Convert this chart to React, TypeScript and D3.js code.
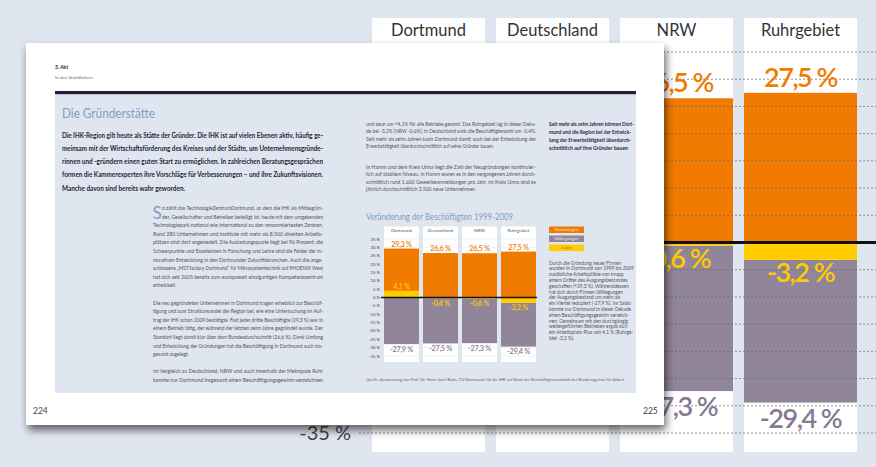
import React from "react";
import * as d3 from "d3";

const categories = ["Dortmund", "Deutschland", "NRW", "Ruhrgebiet"];
const gruendungen = [29.3, 26.6, 26.5, 27.5];
const stilllegungen = [-27.9, -27.5, -27.3, -29.4];
const saldo = [4.1, -0.4, -0.6, -3.2];
const yTicks = [35, 30, 25, 20, 15, 10, 5, 0, -5, -10, -15, -20, -25, -30, -35];
const legendLabels = ["Gründungen", "Stilllegungen", "Saldo"];

const ORANGE = "#f07b00";
const PURPLE = "#918599";
const YELLOW = "#ffcc00";
const PURPLE_TXT = "#857a91";
const BG = "#e0e6ef";
const PANEL = "#dfe6f0";
const STEEL = "#7f9ec0";
const FONT = "Lato, 'Open Sans', sans-serif";

const de = d3.formatLocale({ decimal: ",", thousands: ".", grouping: [3], currency: ["", "€"], minus: "-" } as any);
const f1 = de.format(".1f");
const pct = (v: number) => f1(v) + " %";
const tickFmt = (v: number) => de.format("d")(v) + " %";

const introLines = [
  { t: "Die IHK-Region gilt heute als Stätte der Gründer. Die IHK ist auf vielen Ebenen aktiv, häufig ge-", w: 261 },
  { t: "meinsam mit der Wirtschaftsförderung des Kreises und der Städte, um Unternehmensgründe-", w: 261 },
  { t: "rinnen und -gründern einen guten Start zu ermöglichen. In zahlreichen Beratungsgesprächen", w: 261 },
  { t: "formen die Kammerexperten ihre Vorschläge für Verbesserungen – und ihre Zukunftsvisionen.", w: 261 },
  { t: "Manche davon sind bereits wahr geworden.", w: 123 },
];

const col1Lines = [
  { t: "o zählt das TechnologieZentrumDortmund, an dem die IHK als Mitbegrün-", w: 161, x: 9 },
  { t: "der, Gesellschafter und Betreiber beteiligt ist, heute mit dem umgebenden", w: 161, x: 9 },
  { t: "Technologiepark national wie international zu den renommiertesten Zentren.", w: 170 },
  { t: "Rund 280 Unternehmen und Institute mit mehr als 8.500 direkten Arbeits-", w: 170 },
  { t: "plätzen sind dort angesiedelt. Die Auslastungsquote liegt bei 96 Prozent; die", w: 170 },
  { t: "Schwerpunkte und Exzellenzen in Forschung und Lehre sind die Felder der in-", w: 170 },
  { t: "novativen Entwicklung in den Dortmunder Zukunftsbranchen. Auch die ange-", w: 170 },
  { t: "schlossene „MST.factory Dortmund“ für Mikrosystemtechnik auf PHOENIX West", w: 170 },
  { t: "hat sich seit 2005 bereits zum europaweit einzigartigen Kompetenzzentrum", w: 170 },
  { t: "entwickelt.", w: 23 },
  { t: "", w: 0 },
  { t: "Die neu gegründeten Unternehmen in Dortmund tragen erheblich zur Beschäf-", w: 170 },
  { t: "tigung und zum Strukturwandel der Region bei, wie eine Untersuchung im Auf-", w: 170 },
  { t: "trag der IHK schon 2009 bestätigte. Fast jeder dritte Beschäftigte (29,3 %) war in", w: 170 },
  { t: "einem Betrieb tätig, der während der letzten zehn Jahre gegründet wurde. Der", w: 170 },
  { t: "Standort liegt damit klar über dem Bundesdurchschnitt (26,6 %). Dank Umfang", w: 170 },
  { t: "und Entwicklung der Gründungen hat die Beschäftigung in Dortmund auch ins-", w: 170 },
  { t: "gesamt zugelegt.", w: 36 },
  { t: "", w: 0 },
  { t: "Im Vergleich zu Deutschland, NRW und auch innerhalb der Metropole Ruhr", w: 170 },
  { t: "konnte nur Dortmund insgesamt einen Beschäftigungsgewinn verzeichnen", w: 170 },
];

const col2Para1 = [
  { t: "und zwar um +4,1% für alle Betriebe gesamt. Das Ruhrgebiet lag in dieser Deka-", w: 170 },
  { t: "de bei -3,2% (NRW -0,6%), in Deutschland sank die Beschäftigtenzahl um -0,4%.", w: 170 },
  { t: "Seit mehr als zehn Jahren kann Dortmund damit auch bei der Entwicklung der", w: 170 },
  { t: "Erwerbstätigkeit überdurchschnittlich auf seine Gründer bauen.", w: 128 },
];
const col2Para2 = [
  { t: "In Hamm und dem Kreis Unna liegt die Zahl der Neugründungen kontinuier-", w: 170 },
  { t: "lich auf stabilem Niveau. In Hamm waren es in den vergangenen Jahren durch-", w: 170 },
  { t: "schnittlich rund 1.600 Gewerbeanmeldungen pro Jahr, im Kreis Unna sind es", w: 170 },
  { t: "jährlich durchschnittlich 3.500 neue Unternehmen.", w: 110 },
];
const sideLines = [
  { t: "Seit mehr als zehn Jahren können Dort-", w: 85 },
  { t: "mund und die Region bei der Entwick-", w: 82 },
  { t: "lung der Erwerbstätigkeit überdurch-", w: 82 },
  { t: "schnittlich auf ihre Gründer bauen", w: 79 },
];
const descLines = [
  "Durch die Gründung neuer Firmen",
  "wurden in Dortmund von 1999 bis 2009",
  "zusätzliche Arbeitsplätze von knapp",
  "einem Drittel des Ausgangsbestandes",
  "geschaffen (+29,3 %). Währenddessen",
  "hat sich durch Firmen-Stilllegungen",
  "der Ausgangsbestand um mehr als",
  "ein Viertel reduziert (-27,9 %). Im Saldo",
  "konnte nur Dortmund in dieser Dekade",
  "einen Beschäftigungsgewinn verzeich-",
  "nen. Gemeinsam mit den durchgängig",
  "weitergeführten Betrieben ergab sich",
  "ein Arbeitsplatz-Plus von 4,1 % (Ruhrge-",
  "biet -3,2 %).",
];

type ChartProps = {
  xRange: [number, number];
  pad: number;
  yRange: [number, number];
  colTop: number;
  colBot: number;
  catY: number;
  catSize: number;
  catColor: string;
  valSize: number;
  valSpacing: number;
  valWeight: number;
  offTop: number;
  offSaldoPos: number;
  offSaldoNeg: number;
  offBottom: number;
  tickX: number;
  tickSize: number;
  tickDy: number;
  dashed: boolean;
  lineX: [number, number];
  zeroW: number;
};

function BarChart({ p }: { p: ChartProps }) {
  const x = d3.scaleBand<string>().domain(categories).range(p.xRange).paddingInner(p.pad).paddingOuter(0);
  const y = d3.scaleLinear().domain([35, -35]).range(p.yRange);
  const bw = x.bandwidth();
  const y0 = y(0);
  return (
    <g fontFamily={FONT}>
      {categories.map((c) => (
        <rect key={c} x={x(c)} y={p.colTop} width={bw} height={p.colBot - p.colTop} fill="#fff" />
      ))}
      {!p.dashed &&
        yTicks.filter((t) => t !== 0).map((t) =>
          categories.map((c) => (
            <line key={t + c} x1={x(c)} x2={(x(c) as number) + bw} y1={y(t)} y2={y(t)} stroke="#e2e4ea" strokeWidth={0.5} />
          ))
        )}
      {categories.map((c, i) => {
        const g = gruendungen[i];
        const s = saldo[i];
        const st = stilllegungen[i];
        const xs = x(c) as number;
        return (
          <g key={c}>
            <rect x={xs} y={y(g)} width={bw} height={y0 - y(g)} fill={ORANGE} />
            <rect x={xs} y={y(Math.min(s, 0))} width={bw} height={y(st) - y(Math.min(s, 0))} fill={PURPLE} />
            <rect x={xs} y={y(Math.max(s, 0))} width={bw} height={Math.abs(y(s) - y0)} fill={YELLOW} />
          </g>
        );
      })}
      {p.dashed &&
        yTicks.filter((t) => t !== 0).map((t) => (
          <line key={t} x1={p.lineX[0]} x2={p.lineX[1]} y1={y(t)} y2={y(t)} stroke="#666" strokeOpacity={0.7} strokeWidth={1} strokeDasharray="2 2" />
        ))}
      <line x1={p.lineX[0]} x2={p.lineX[1]} y1={y0} y2={y0} stroke="#111" strokeWidth={p.zeroW} />
      {yTicks.map((t) => (
        <text key={t} x={p.tickX} y={y(t) + p.tickDy} fontSize={p.tickSize} textAnchor="end" fill="#444">
          {tickFmt(t)}
        </text>
      ))}
      {categories.map((c, i) => {
        const cx = (x(c) as number) + bw / 2;
        const s = saldo[i];
        return (
          <g key={c} textAnchor="middle" letterSpacing={p.valSpacing} fontWeight={p.valWeight}>
            <text x={cx} y={p.catY} fontSize={p.catSize} fill={p.catColor} letterSpacing={0} fontWeight={400}>
              {c}
            </text>
            <text x={cx} y={y(gruendungen[i]) - p.offTop} fontSize={p.valSize} fill={ORANGE}>
              {pct(gruendungen[i])}
            </text>
            <text x={cx} y={s >= 0 ? y(s) - p.offSaldoPos : y(s) + p.offSaldoNeg} fontSize={p.valSize} fill={YELLOW}>
              {pct(s)}
            </text>
            <text x={cx} y={y(stilllegungen[i]) + p.offBottom} fontSize={p.valSize} fill={PURPLE_TXT}>
              {pct(stilllegungen[i])}
            </text>
          </g>
        );
      })}
    </g>
  );
}

const bigChart: ChartProps = {
  xRange: [372, 857],
  pad: 11 / 124,
  yRange: [52, 433],
  colTop: 18,
  colBot: 452,
  catY: 36,
  catSize: 16.5,
  catColor: "#333",
  valSize: 27,
  valSpacing: -1.5,
  valWeight: 600,
  offTop: 6,
  offSaldoPos: 5,
  offSaldoNeg: 22,
  offBottom: 25,
  tickX: 351,
  tickSize: 20,
  tickDy: 7,
  dashed: true,
  lineX: [359, 876],
  zeroW: 3,
};

const smallChart: ChartProps = {
  xRange: [384, 536],
  pad: 4 / 39,
  yRange: [239, 356],
  colTop: 226.5,
  colBot: 362,
  catY: 232,
  catSize: 4.6,
  catColor: "#555",
  valSize: 7.4,
  valSpacing: -0.3,
  valWeight: 600,
  offTop: 2,
  offSaldoPos: 2,
  offSaldoNeg: 7.5,
  offBottom: 7.5,
  tickX: 380,
  tickSize: 4.3,
  tickDy: 1.5,
  dashed: false,
  lineX: [381, 537],
  zeroW: 1.4,
};

function Lines({ lines, x, y, dy, size, fill, weight }: any) {
  return (
    <g fontSize={size} fill={fill} fontWeight={weight || 400} fontFamily={FONT}>
      {lines.map((l: any, i: number) =>
        l.t ? (
          <text key={i} x={x + (l.x || 0)} y={y + i * dy} textLength={l.w} lengthAdjust="spacingAndGlyphs">
            {l.t}
          </text>
        ) : null
      )}
    </g>
  );
}

export default function App() {
  const legendColors = [ORANGE, PURPLE, YELLOW];
  const legendText = ["#fde3c4", "#ebe6f0", "#c07a00"];
  return (
    <svg width={876} height={467} style={{ position: "absolute", left: 0, top: 0, display: "block" }} fontFamily={FONT}>
      <defs>
        <filter id="shadow" x="-10%" y="-10%" width="120%" height="125%">
          <feDropShadow dx="2" dy="5" stdDeviation="4" floodColor="#000" floodOpacity="0.6" />
        </filter>
      </defs>
      <rect x={0} y={0} width={876} height={467} fill={BG} />
      <BarChart p={bigChart} />

      {/* page */}
      <rect x={26} y={43} width={638} height={382} fill="#fff" filter="url(#shadow)" />
      <text x={55} y={69} fontSize={5} fontWeight={700} fill="#222">3. Akt</text>
      <text x={55} y={78.5} fontSize={4.5} fill="#666">In den Startlöchern</text>
      <rect x={55} y={91} width={581} height={3.5} fill="#221e3e" />
      <rect x={55} y={94.5} width={581} height={298.5} fill={PANEL} />
      <text x={62} y={118} fontSize={13} fill={STEEL} textLength={93} lengthAdjust="spacingAndGlyphs">
        Die Gründerstätte
      </text>
      <Lines lines={introLines} x={62} y={137.5} dy={13.25} size={7.3} fill="#1f1e38" weight={700} />
      <text x={152.5} y={219} fontSize={17} fill={STEEL}>S</text>
      <Lines lines={col1Lines} x={153} y={210} dy={8.6} size={5.2} fill="#555" />
      <Lines lines={col2Para1} x={366} y={125.5} dy={7.55} size={5} fill="#555" />
      <Lines lines={col2Para2} x={366} y={168.5} dy={7.6} size={5} fill="#555" />
      <Lines lines={sideLines} x={549} y={125.5} dy={8.3} size={5} fill="#2a2844" weight={700} />

      <text x={366} y={219.5} fontSize={9} fill={STEEL} textLength={147} lengthAdjust="spacingAndGlyphs">
        Veränderung der Beschäftigten 1999-2009
      </text>
      <BarChart p={smallChart} />

      {legendLabels.map((l, i) => (
        <g key={l}>
          <rect x={549} y={226.5 + i * 9} width={35} height={6.5} fill={legendColors[i]} />
          <text x={566.5} y={231.3 + i * 9} fontSize={4.3} textAnchor="middle" fill={legendText[i]}>
            {l}
          </text>
        </g>
      ))}
      <g fontSize={4.8} fill="#555">
        {descLines.map((t, i) => (
          <text key={i} x={549} y={264.5 + i * 5.8}>
            {t}
          </text>
        ))}
      </g>
      <text x={366} y={380.5} fontSize={3.6} fill="#666" textLength={259} lengthAdjust="spacingAndGlyphs">
        Quelle: Auswertung von Prof. Dr. Hans-Josef Bade, TU Dortmund, für die IHK auf Basis der Beschäftigtenstatistik der Bundesagentur für Arbeit.
      </text>
      <text x={33} y={414} fontSize={8.5} fill="#444">224</text>
      <text x={643} y={414} fontSize={8.5} fill="#444">225</text>
    </svg>
  );
}
